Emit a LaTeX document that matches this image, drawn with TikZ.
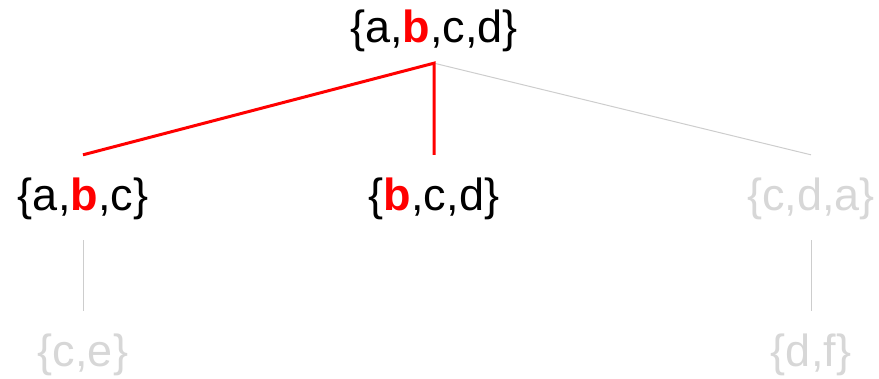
\documentclass[tikz,border=0pt]{standalone}
\usepackage{fontspec}
\setmainfont{Liberation Sans}
\definecolor{lightg}{RGB}{215,215,215}
\definecolor{lineg}{RGB}{205,205,205}
\newcommand{\rb}{\textcolor{red}{\textbf{b}}}
\begin{document}
\begin{tikzpicture}[x=1pt,y=-1pt,
  lab/.style={inner sep=0pt, font=\fontsize{45}{54}\selectfont},
  dim/.style={lab, text=lightg},
  redline/.style={draw=red, line width=3pt},
  greyline/.style={draw=lineg, line width=1pt}]
\useasboundingbox (0,0) rectangle (879,379);
\node[lab] (top) at (434,31) {\{a,\rb,c,d\}};
\node[lab] (l) at (83,199) {\{a,\rb,c\}};
\node[lab] (m) at (434,199) {\{\rb,c,d\}};
\node[dim] (r) at (811,199) {\{c,d,a\}};
\node[dim] (ll) at (83,355) {\{c,e\}};
\node[dim] (rr) at (811,355) {\{d,f\}};
\coordinate (tp) at ([yshift=-11pt]top.south);
\draw[greyline] (tp) -- ([yshift=23pt]r.north);
\draw[redline] ([yshift=23pt]l.north) -- (tp) -- ([yshift=23pt]m.north);
\draw[greyline] ([yshift=-20pt]l.south) -- ([yshift=23pt]ll.north);
\draw[greyline] ([yshift=-20pt]r.south) -- ([yshift=23pt]rr.north);
\end{tikzpicture}
\end{document}
